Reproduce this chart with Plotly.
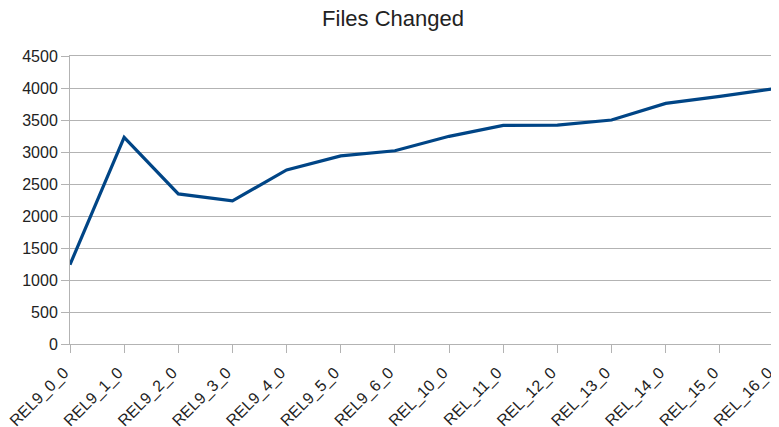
import plotly.graph_objects as go

releases = ["REL9_0_0", "REL9_1_0", "REL9_2_0", "REL9_3_0", "REL9_4_0", "REL9_5_0",
            "REL9_6_0", "REL_10_0", "REL_11_0", "REL_12_0", "REL_13_0", "REL_14_0",
            "REL_15_0", "REL_16_0"]
files_changed = [1240, 3230, 2345, 2235, 2720, 2940, 3020, 3245, 3415, 3420, 3500, 3760, 3870, 3990]
y_ticks = [0, 500, 1000, 1500, 2000, 2500, 3000, 3500, 4000, 4500]

fig = go.Figure(go.Scatter(
    x=releases, y=files_changed, mode="lines",
    line=dict(color="#004586", width=3.2),
    showlegend=False,
))

# page body adds an 8px offset, so the figure is sized to the visible area
fig.update_layout(
    width=771, height=419,
    margin=dict(l=62, r=5, t=48, b=83, autoexpand=False),
    paper_bgcolor="white", plot_bgcolor="white",
    font=dict(family="Liberation Sans, Arial, sans-serif", size=16, color="#222222"),
    title=dict(text="Files Changed", x=0.4994, xanchor="center", y=0.975, yanchor="middle",
               font=dict(size=22, color="#222222")),
)
fig.update_xaxes(
    type="category", range=[0, len(releases) - 1], automargin=False,
    tickangle=-45, ticks="outside", ticklen=8, tickcolor="#b3b3b3",
    ticklabelshift=-6, ticklabelstandoff=4,
    showgrid=False, showline=True, linecolor="#b3b3b3", linewidth=1, mirror=True,
    tickfont=dict(size=16),
)
fig.update_yaxes(
    range=[0, 4500], tickvals=y_ticks, automargin=False,
    ticks="outside", ticklen=8, tickcolor="#b3b3b3",
    showgrid=True, gridcolor="#b3b3b3", gridwidth=1,
    showline=True, linecolor="#b3b3b3", linewidth=1, mirror=True,
    zeroline=False, tickfont=dict(size=16),
)

fig.write_html("out.html")
